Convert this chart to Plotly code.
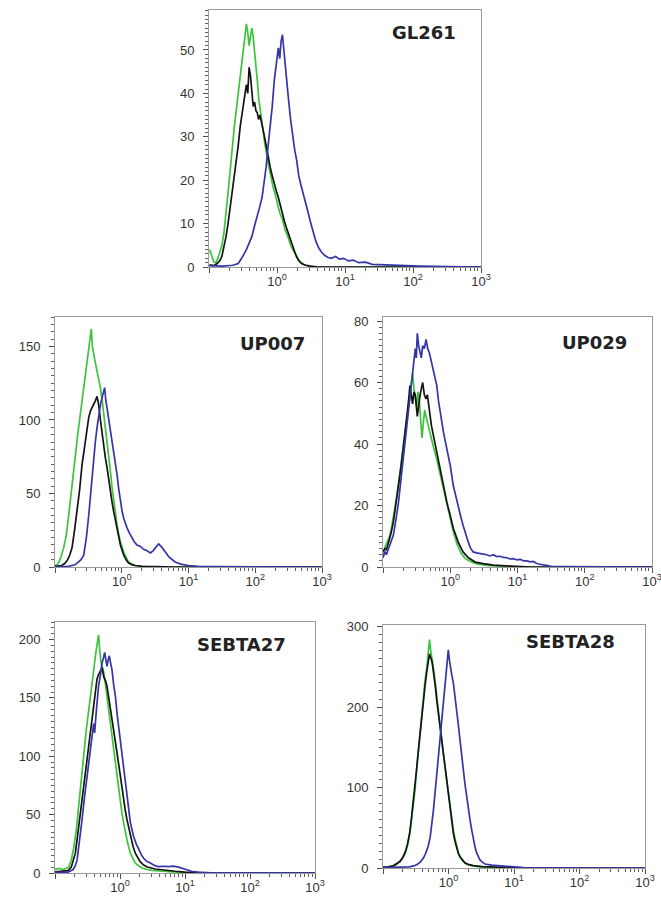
import plotly.graph_objects as go

W, H = 661, 906

# ---------------- data: x = log10(fluorescence), y = counts ----------------
# GL261
gl_green_x = [-0.99, -0.96, -0.93, -0.90, -0.87, -0.84, -0.81, -0.78, -0.75, -0.72, -0.69, -0.66, -0.63, -0.60, -0.57, -0.54, -0.51, -0.48, -0.45, -0.43, -0.41, -0.39, -0.37, -0.35, -0.33, -0.31, -0.29, -0.27, -0.24, -0.21, -0.18, -0.15, -0.12, -0.09, -0.06, -0.03, 0.0, 0.04, 0.08, 0.12, 0.16, 0.20, 0.24, 0.28, 0.32, 0.36, 0.40, 0.45, 0.50, 3.0]
gl_green_y = [4.0, 2.5, 1.2, 1.0, 2.0, 3.5, 5.0, 8.0, 12, 17, 22, 28, 32, 36, 40, 44, 49, 53, 56, 54, 51, 53, 55, 53, 50, 47, 43, 39, 35, 32, 28.5, 25.5, 23, 21, 18.5, 17, 15, 12.5, 11, 8.5, 7, 5, 3.8, 2.5, 1.5, 1.0, 0.5, 0.3, 0, 0]
gl_black_x = [-0.99, -0.93, -0.88, -0.84, -0.81, -0.78, -0.75, -0.72, -0.69, -0.66, -0.63, -0.60, -0.57, -0.54, -0.51, -0.48, -0.45, -0.43, -0.41, -0.39, -0.37, -0.35, -0.33, -0.31, -0.29, -0.27, -0.25, -0.22, -0.19, -0.16, -0.13, -0.10, -0.07, -0.04, -0.01, 0.02, 0.05, 0.08, 0.11, 0.14, 0.17, 0.20, 0.23, 0.26, 0.29, 0.32, 0.36, 0.42, 0.50, 0.60, 3.0]
gl_black_y = [0.5, 0.3, 0.8, 1.5, 2.5, 4.5, 7, 10, 13.5, 17, 21, 25, 28, 32.5, 36, 39, 42, 40, 46, 44, 41, 37, 38, 36, 35.5, 34, 35, 33, 30.5, 28, 25, 23, 21, 19, 17.5, 16, 14, 12.5, 10.5, 9, 7.5, 6, 4.8, 3.5, 2.3, 1.5, 0.8, 0.4, 0.2, 0, 0]
gl_blue_x = [-1.0, -0.8, -0.65, -0.57, -0.52, -0.48, -0.45, -0.41, -0.37, -0.33, -0.30, -0.26, -0.22, -0.19, -0.16, -0.13, -0.10, -0.07, -0.04, -0.01, 0.02, 0.04, 0.06, 0.08, 0.10, 0.12, 0.14, 0.17, 0.20, 0.23, 0.26, 0.29, 0.32, 0.35, 0.38, 0.41, 0.45, 0.49, 0.53, 0.57, 0.61, 0.65, 0.70, 0.75, 0.80, 0.86, 0.92, 0.98, 1.05, 1.12, 1.20, 1.30, 1.40, 1.55, 1.70, 1.90, 2.10, 2.50, 3.0]
gl_blue_y = [0.3, 0.2, 0.4, 0.8, 2, 3, 4, 5.5, 7, 9.5, 11.5, 13.5, 16, 19, 23, 28, 32, 37, 43, 47, 50.5, 48, 52, 53.5, 50, 46, 42, 38.5, 34, 30, 27, 24.5, 21, 19, 17, 15.5, 13, 10.5, 8, 6, 4.5, 3.5, 2.7, 2.2, 2.0, 2.4, 1.8, 2.0, 1.4, 1.6, 1.0, 1.1, 0.6, 0.5, 0.4, 0.3, 0.2, 0.1, 0]

# UP007
up7_green_x = [-1.0, -0.97, -0.945, -0.91, -0.87, -0.83, -0.795, -0.76, -0.73, -0.695, -0.66, -0.62, -0.58, -0.545, -0.52, -0.495, -0.475, -0.456, -0.44, -0.42, -0.40, -0.37, -0.345, -0.32, -0.295, -0.27, -0.245, -0.22, -0.195, -0.17, -0.145, -0.12, -0.095, -0.07, -0.045, -0.02, 0.03, 0.07, 0.10, 0.15, 0.20, 0.30, 0.50, 3.0]
up7_green_y = [1, 1.5, 3, 7, 13, 22, 35, 50, 63, 76, 90, 104, 118, 131, 138, 145, 152, 162, 150, 144, 140, 133, 128, 122, 114, 105, 95, 85, 75, 65, 54, 44, 36, 28.5, 22, 17, 10, 6, 3.5, 2, 1, 0.5, 0, 0]
up7_black_x = [-1.0, -0.9, -0.85, -0.81, -0.78, -0.745, -0.71, -0.67, -0.63, -0.595, -0.57, -0.545, -0.52, -0.495, -0.47, -0.446, -0.42, -0.396, -0.37, -0.345, -0.32, -0.295, -0.27, -0.245, -0.22, -0.195, -0.17, -0.145, -0.12, -0.095, -0.07, -0.045, -0.02, 0.03, 0.07, 0.104, 0.15, 0.20, 0.30, 0.50, 0.80, 3.0]
up7_black_y = [0.5, 1, 2.5, 5, 8, 13, 24, 37.5, 53, 69.5, 78, 85, 93, 101.6, 106, 108, 111, 113, 116, 110, 100, 90, 81, 74, 67.5, 59, 51, 44, 37.5, 32, 26.6, 20, 15, 8, 4.5, 2.7, 1.6, 1, 0.5, 0.2, 0, 0]
up7_blue_x = [-1.0, -0.8, -0.7, -0.645, -0.61, -0.57, -0.53, -0.495, -0.47, -0.446, -0.42, -0.396, -0.37, -0.345, -0.32, -0.296, -0.275, -0.256, -0.24, -0.22, -0.195, -0.17, -0.145, -0.12, -0.095, -0.07, -0.045, -0.02, 0.005, 0.03, 0.055, 0.079, 0.115, 0.154, 0.19, 0.229, 0.28, 0.328, 0.38, 0.428, 0.47, 0.503, 0.553, 0.59, 0.628, 0.665, 0.703, 0.75, 0.80, 0.85, 0.90, 1.0, 1.15, 1.4, 3.0]
up7_blue_y = [0.3, 0.5, 1.5, 3.4, 5, 8, 20, 35, 48, 62.7, 74, 85, 95, 103.6, 110, 115, 118, 122, 114, 108, 101, 94.8, 86, 78.4, 70, 62.7, 53, 44, 38, 33, 29, 26.6, 23, 19.8, 17, 15, 14, 12, 11, 9.5, 11, 13, 15.7, 14, 12, 9.5, 7, 5, 3.4, 2.5, 1.8, 1, 0.4, 0.2, 0]

# UP029
up29_green_x = [-1.0, -0.97, -0.94, -0.91, -0.88, -0.846, -0.81, -0.77, -0.735, -0.70, -0.67, -0.64, -0.61, -0.585, -0.56, -0.54, -0.52, -0.50, -0.48, -0.46, -0.44, -0.42, -0.40, -0.38, -0.36, -0.34, -0.31, -0.28, -0.25, -0.20, -0.15, -0.10, -0.05, 0.0, 0.045, 0.10, 0.16, 0.22, 0.30, 0.40, 0.55, 0.80, 1.10, 3.0]
up29_green_y = [4, 6.5, 8, 9.5, 12, 16, 21, 27, 33, 39, 44, 50, 55, 60, 63, 58, 55, 52, 57, 54, 48, 42, 47, 51, 49, 47, 45, 42, 39, 35, 30, 25, 20, 15.5, 11.5, 7.5, 4.5, 2.8, 1.8, 1.0, 0.5, 0.2, 0, 0]
up29_black_x = [-1.0, -0.97, -0.95, -0.92, -0.88, -0.846, -0.81, -0.77, -0.735, -0.70, -0.67, -0.64, -0.62, -0.60, -0.58, -0.56, -0.54, -0.52, -0.49, -0.47, -0.45, -0.43, -0.41, -0.385, -0.36, -0.34, -0.31, -0.28, -0.25, -0.20, -0.15, -0.10, -0.05, 0.0, 0.045, 0.12, 0.19, 0.27, 0.37, 0.49, 0.64, 0.90, 1.20, 3.0]
up29_black_y = [5, 6, 5.5, 7.7, 11, 14.6, 20, 25.6, 32, 38.5, 44, 49, 54, 59, 55, 53, 57, 56, 49, 53, 55.7, 58, 60, 56, 54.7, 56, 50, 46, 42.7, 37.2, 32, 26.5, 21, 16.8, 12.6, 8, 4.9, 3, 1.6, 1.1, 0.6, 0.3, 0, 0]
up29_blue_x = [-1.0, -0.97, -0.95, -0.92, -0.89, -0.846, -0.81, -0.77, -0.735, -0.70, -0.66, -0.62, -0.595, -0.57, -0.545, -0.52, -0.505, -0.49, -0.47, -0.45, -0.43, -0.41, -0.385, -0.36, -0.335, -0.31, -0.285, -0.26, -0.23, -0.20, -0.175, -0.15, -0.125, -0.10, -0.075, -0.05, -0.025, 0.0, 0.045, 0.08, 0.12, 0.155, 0.19, 0.23, 0.27, 0.30, 0.34, 0.39, 0.44, 0.49, 0.54, 0.59, 0.64, 0.69, 0.74, 0.79, 0.84, 0.89, 0.94, 0.99, 1.04, 1.09, 1.14, 1.19, 1.235, 1.28, 1.33, 1.38, 1.43, 1.50, 1.70, 3.0]
up29_blue_y = [3, 5, 4, 6, 7.5, 10.4, 15, 21, 28, 35, 42, 49, 55, 60, 66, 71, 68, 76, 72, 70, 68, 72, 71, 74, 71, 69.6, 67, 65, 62, 59, 54, 50, 47, 43.7, 41, 38.5, 35.5, 33, 26.5, 23, 20, 16.5, 13.6, 10.5, 8, 6.2, 4.9, 4.6, 4.5, 4.2, 4, 3.6, 4, 3.4, 3.5, 3.1, 3, 2.6, 2.7, 2.3, 2.5, 2.0, 2, 1.7, 1.8, 1.2, 0.9, 0.8, 0.5, 0.2, 0.1, 0]

# SEBTA27
s27_green_x = [-1.0, -0.94, -0.87, -0.79, -0.75, -0.71, -0.67, -0.635, -0.60, -0.56, -0.52, -0.48, -0.455, -0.43, -0.405, -0.38, -0.355, -0.33, -0.31, -0.29, -0.27, -0.25, -0.225, -0.20, -0.175, -0.15, -0.125, -0.097, -0.07, -0.046, -0.02, 0.005, 0.03, 0.056, 0.08, 0.108, 0.135, 0.16, 0.20, 0.235, 0.29, 0.34, 0.42, 0.49, 0.65, 0.80, 1.0, 1.3, 3.0]
s27_green_y = [3, 4, 3, 5, 11, 22, 38, 57, 80, 103, 122, 140, 152, 166, 176, 185, 195, 204, 190, 180, 176, 172, 162, 151, 140, 129, 116, 103, 91, 80, 70, 60, 51, 43, 35, 28.3, 22, 17, 12, 8.6, 6, 4.3, 3, 2.3, 1.5, 0.8, 0.3, 0, 0]
s27_black_x = [-1.0, -0.9, -0.8, -0.75, -0.72, -0.687, -0.65, -0.61, -0.57, -0.53, -0.49, -0.456, -0.43, -0.405, -0.38, -0.354, -0.33, -0.30, -0.275, -0.25, -0.225, -0.20, -0.175, -0.15, -0.125, -0.097, -0.07, -0.046, -0.02, 0.005, 0.03, 0.056, 0.08, 0.108, 0.135, 0.16, 0.20, 0.235, 0.27, 0.31, 0.36, 0.41, 0.54, 0.69, 0.85, 1.0, 1.2, 1.5, 3.0]
s27_black_y = [1, 1.5, 2, 5, 10, 17, 33, 51, 70, 88, 107, 125, 136, 146, 156, 166, 170, 174, 176, 168, 165, 160, 151, 143, 134, 125, 114, 103, 93, 82.6, 72, 62.6, 54, 45.5, 38, 31, 23, 17, 13, 9.7, 7, 5.4, 3.4, 2.3, 1.5, 0.8, 0.3, 0, 0]
s27_blue_x = [-1.0, -0.8, -0.72, -0.69, -0.66, -0.62, -0.585, -0.55, -0.51, -0.47, -0.43, -0.405, -0.39, -0.37, -0.35, -0.33, -0.30, -0.277, -0.255, -0.236, -0.215, -0.20, -0.18, -0.164, -0.145, -0.123, -0.095, -0.07, -0.046, -0.02, 0.005, 0.03, 0.056, 0.08, 0.108, 0.135, 0.16, 0.185, 0.21, 0.25, 0.29, 0.33, 0.364, 0.41, 0.467, 0.53, 0.595, 0.67, 0.75, 0.82, 0.90, 0.95, 1.0, 1.05, 1.10, 1.21, 1.40, 3.0]
s27_blue_y = [0.5, 0.8, 3, 6, 11, 28, 45, 63, 82.6, 100, 117, 128, 120, 135, 150, 160, 170, 180, 184, 189, 182, 177, 183, 186, 180, 174, 160, 151, 137, 125, 114, 101, 88, 75, 62.6, 52, 43, 37, 31, 25, 19.7, 15.5, 12.6, 10, 8.6, 6.5, 5.4, 5.8, 5.4, 5.8, 5, 4.2, 3.4, 2.5, 1.5, 0.6, 0.2, 0]

# SEBTA28
s28_green_x = [-1.0, -0.92, -0.84, -0.79, -0.74, -0.70, -0.66, -0.625, -0.59, -0.565, -0.54, -0.51, -0.486, -0.46, -0.435, -0.41, -0.385, -0.36, -0.33, -0.31, -0.29, -0.275, -0.256, -0.24, -0.22, -0.20, -0.18, -0.155, -0.13, -0.105, -0.08, -0.055, -0.03, 0.0, 0.023, 0.05, 0.074, 0.10, 0.125, 0.15, 0.176, 0.21, 0.25, 0.30, 0.354, 0.48, 0.70, 1.0, 1.3, 3.0]
s28_green_y = [0.5, 1, 2, 4.5, 8, 12, 18, 28, 43, 58, 76, 98, 122, 145, 168, 191, 213, 232, 250, 268, 284, 272, 263, 254, 243, 229, 213, 195, 176, 160, 143, 127, 110, 93, 76, 61, 47, 36, 26, 19, 14, 9.5, 6, 4, 3, 1.5, 0.7, 0.3, 0, 0]
s28_black_x = [-1.0, -0.92, -0.84, -0.79, -0.74, -0.70, -0.66, -0.625, -0.59, -0.565, -0.54, -0.51, -0.486, -0.46, -0.435, -0.41, -0.385, -0.36, -0.33, -0.31, -0.29, -0.275, -0.256, -0.24, -0.22, -0.20, -0.18, -0.155, -0.13, -0.105, -0.08, -0.055, -0.03, 0.0, 0.023, 0.05, 0.074, 0.10, 0.125, 0.15, 0.176, 0.21, 0.25, 0.30, 0.38, 0.52, 0.70, 1.0, 1.3, 3.0]
s28_black_y = [1, 1.5, 3, 5, 8, 13, 20, 30, 45, 62, 80, 100, 124, 146, 168, 188, 206, 225, 245, 258, 266, 262, 258, 250, 240, 225, 209, 192, 175, 157, 140, 123, 106, 88, 73, 57, 43, 33, 24, 18, 14, 10, 6.5, 4.5, 3, 1.8, 1, 0.4, 0, 0]
s28_blue_x = [-1.0, -0.8, -0.6, -0.52, -0.486, -0.435, -0.385, -0.35, -0.31, -0.28, -0.256, -0.23, -0.206, -0.18, -0.155, -0.13, -0.104, -0.08, -0.053, -0.028, -0.003, 0.015, 0.033, 0.05, 0.074, 0.10, 0.125, 0.15, 0.176, 0.20, 0.226, 0.25, 0.278, 0.30, 0.328, 0.355, 0.38, 0.405, 0.43, 0.455, 0.48, 0.52, 0.557, 0.66, 0.786, 0.89, 0.99, 1.14, 1.40, 3.0]
s28_blue_y = [0.5, 0.8, 1.5, 3, 4, 7, 12, 18, 27, 38, 52, 72, 93, 115, 138, 160, 184, 207, 230, 252, 271, 258, 246, 240, 230, 214, 197, 178, 159, 140, 122, 105, 89, 74, 60, 47, 35, 26, 18.7, 14, 10, 7, 5, 3.5, 2.5, 2.4, 1, 0.5, 0.2, 0]

panel_names = ["GL261", "UP007", "UP029", "SEBTA27", "SEBTA28"]
y_dtick = [10, 50, 20, 50, 100]
y_max = [59.2, 170, 81.3, 215, 302]
x_label_alias = {"0.1": " ", "1": "10<sup>0</sup>", "10": "10<sup>1</sup>",
                 "100": "10<sup>2</sup>", "1000": "10<sup>3</sup>"}

panel_series = [
    [(gl_green_x, gl_green_y), (gl_black_x, gl_black_y), (gl_blue_x, gl_blue_y)],
    [(up7_green_x, up7_green_y), (up7_black_x, up7_black_y), (up7_blue_x, up7_blue_y)],
    [(up29_green_x, up29_green_y), (up29_black_x, up29_black_y), (up29_blue_x, up29_blue_y)],
    [(s27_green_x, s27_green_y), (s27_black_x, s27_black_y), (s27_blue_x, s27_blue_y)],
    [(s28_green_x, s28_green_y), (s28_black_x, s28_black_y), (s28_blue_x, s28_blue_y)],
]

# ---------------- layout (pixel boxes) ----------------
boxes = [(209, 481, 10, 267), (55, 322, 317, 567), (383, 652, 317, 567),
         (55, 315, 622, 873), (383, 645, 625, 868)]
label_pos = [(424, 33), (272, 343), (594, 342.5), (241, 644.5), (570.6, 641.5)]
colors = ["#3dc43d", "#141414", "#3535a8"]

fig = go.Figure()
layout = dict(width=W, height=H, margin=dict(l=0, r=0, t=0, b=0, autoexpand=False),
              paper_bgcolor="white", plot_bgcolor="white", showlegend=False)
annotations = []
tick_font = dict(family="Liberation Sans, Arial", size=13, color="#333")

for i in range(5):
    sfx = "" if i == 0 else str(i + 1)
    x0, x1, y0, y1 = boxes[i]
    for (xs, ys), c in zip(panel_series[i], colors):
        fig.add_trace(go.Scatter(x=[10 ** v for v in xs], y=ys, mode="lines",
                                 line=dict(color=c, width=1.7),
                                 xaxis="x" + sfx, yaxis="y" + sfx,
                                 hoverinfo="skip"))
    layout["xaxis" + sfx] = dict(
        type="log", range=[-1, 3], domain=[x0 / W, x1 / W], anchor="y" + sfx,
        automargin=False, ticklabeloverflow="allow",
        showline=True, mirror=True, linecolor="#9a9a9a", linewidth=1,
        showgrid=False, zeroline=False, ticks="outside", ticklen=5, tickwidth=1.2,
        tickcolor="#505050", tickmode="linear", tick0=0, dtick=1,
        exponentformat="none", labelalias=x_label_alias,
        ticklabelstandoff=-3, tickfont=tick_font,
        minor=dict(ticks="outside", ticklen=3, tickcolor="#606060", tickwidth=1,
                   dtick="D1", showgrid=False),
    )
    layout["yaxis" + sfx] = dict(
        range=[0, y_max[i]], domain=[1 - y1 / H, 1 - y0 / H], anchor="x" + sfx,
        automargin=False, ticklabeloverflow="allow",
        showline=True, mirror=True, linecolor="#9a9a9a", linewidth=1,
        showgrid=False, zeroline=False, ticks="outside", ticklen=5, tickwidth=1.2,
        tickcolor="#505050", tickmode="linear", tick0=0, dtick=y_dtick[i],
        ticklabelstandoff=6, tickfont=tick_font,
        minor=dict(ticks="outside", ticklen=3, tickcolor="#606060", tickwidth=1,
                   dtick=y_dtick[i] / 10, showgrid=False),
    )
    lx, ly = label_pos[i]
    annotations.append(dict(text="<b>" + panel_names[i] + "</b>", x=lx / W, y=1 - ly / H,
                            xref="paper", yref="paper", showarrow=False,
                            xanchor="center", yanchor="middle",
                            font=dict(family="DejaVu Sans", size=18, color="#222")))

layout["annotations"] = annotations
fig.update_layout(**layout)
fig.write_html("out.html", config={"displayModeBar": False},
               post_script="document.body.style.margin='0';")
